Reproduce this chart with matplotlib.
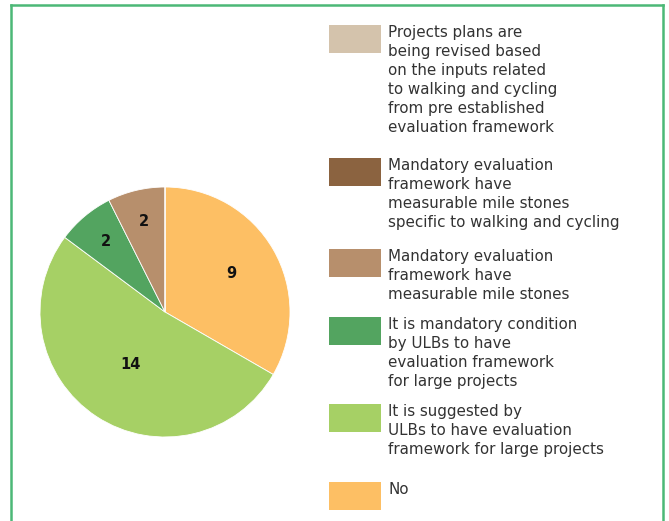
import matplotlib.pyplot as plt
from matplotlib.patches import Rectangle
import numpy as np

# Categories, in legend order (top to bottom)
labels = [
    "Projects plans are\nbeing revised based\non the inputs related\nto walking and cycling\nfrom pre established\nevaluation framework",
    "Mandatory evaluation\nframework have\nmeasurable mile stones\nspecific to walking and cycling",
    "Mandatory evaluation\nframework have\nmeasurable mile stones",
    "It is mandatory condition\nby ULBs to have\nevaluation framework\nfor large projects",
    "It is suggested by\nULBs to have evaluation\nframework for large projects",
    "No",
]
counts = [0, 0, 2, 2, 14, 9]
colors = ["#D4C3AC", "#8B6340", "#B78F6C", "#53A460", "#A6D065", "#FDBF64"]

W, H = 669, 521
fig = plt.figure(figsize=(W / 100, H / 100), dpi=100)
plt.rcParams['font.family'] = ['DejaVu Sans']

# green frame (open at the bottom)
frame_kw = dict(transform=fig.transFigure, color="#4CB877", lw=1.8)
fig.add_artist(plt.Line2D([10.5 / W, 10.5 / W], [0, 1 - 5 / H], **frame_kw))
fig.add_artist(plt.Line2D([10.5 / W, 662.5 / W], [1 - 5 / H, 1 - 5 / H], **frame_kw))
fig.add_artist(plt.Line2D([662.5 / W, 662.5 / W], [0, 1 - 5 / H], **frame_kw))

# pie: drawn clockwise from 12 o'clock, reverse of legend order
cx, cy, r = 165, 312, 125
ax = fig.add_axes([(cx - r) / W, (H - cy - r) / H, 2 * r / W, 2 * r / H])
vals = counts[::-1]
cols = colors[::-1]
wedges, _ = ax.pie(vals, colors=cols, startangle=90, counterclock=False,
                   wedgeprops=dict(linewidth=0.6, edgecolor="white"))
ax.set_xlim(-1, 1)
ax.set_ylim(-1, 1)

dist = [0.61, 0.5, 0.74, 0.74, 0.7, 0.7]
for w, v, d in zip(wedges, vals, dist):
    if v == 0:
        continue
    ang = np.deg2rad((w.theta1 + w.theta2) / 2)
    ax.text(d * np.cos(ang), d * np.sin(ang), str(v), ha="center", va="center",
            fontsize=10.5, fontweight="bold", color="#111111")

# legend
lax = fig.add_axes([0, 0, 1, 1])
lax.set_xlim(0, W)
lax.set_ylim(H, 0)
lax.axis("off")
tops = [25, 158, 249, 317, 404, 482]
line_h = 19
for lab, col, top in zip(labels, colors, tops):
    lax.add_patch(Rectangle((329, top), 52, 28, facecolor=col, edgecolor="none"))
    for i, line in enumerate(lab.split("\n")):
        lax.text(388, top + 12 + i * line_h, line, ha="left", va="baseline",
                 fontsize=10.9, color="#333333")

fig.savefig("out.png", dpi=100)
